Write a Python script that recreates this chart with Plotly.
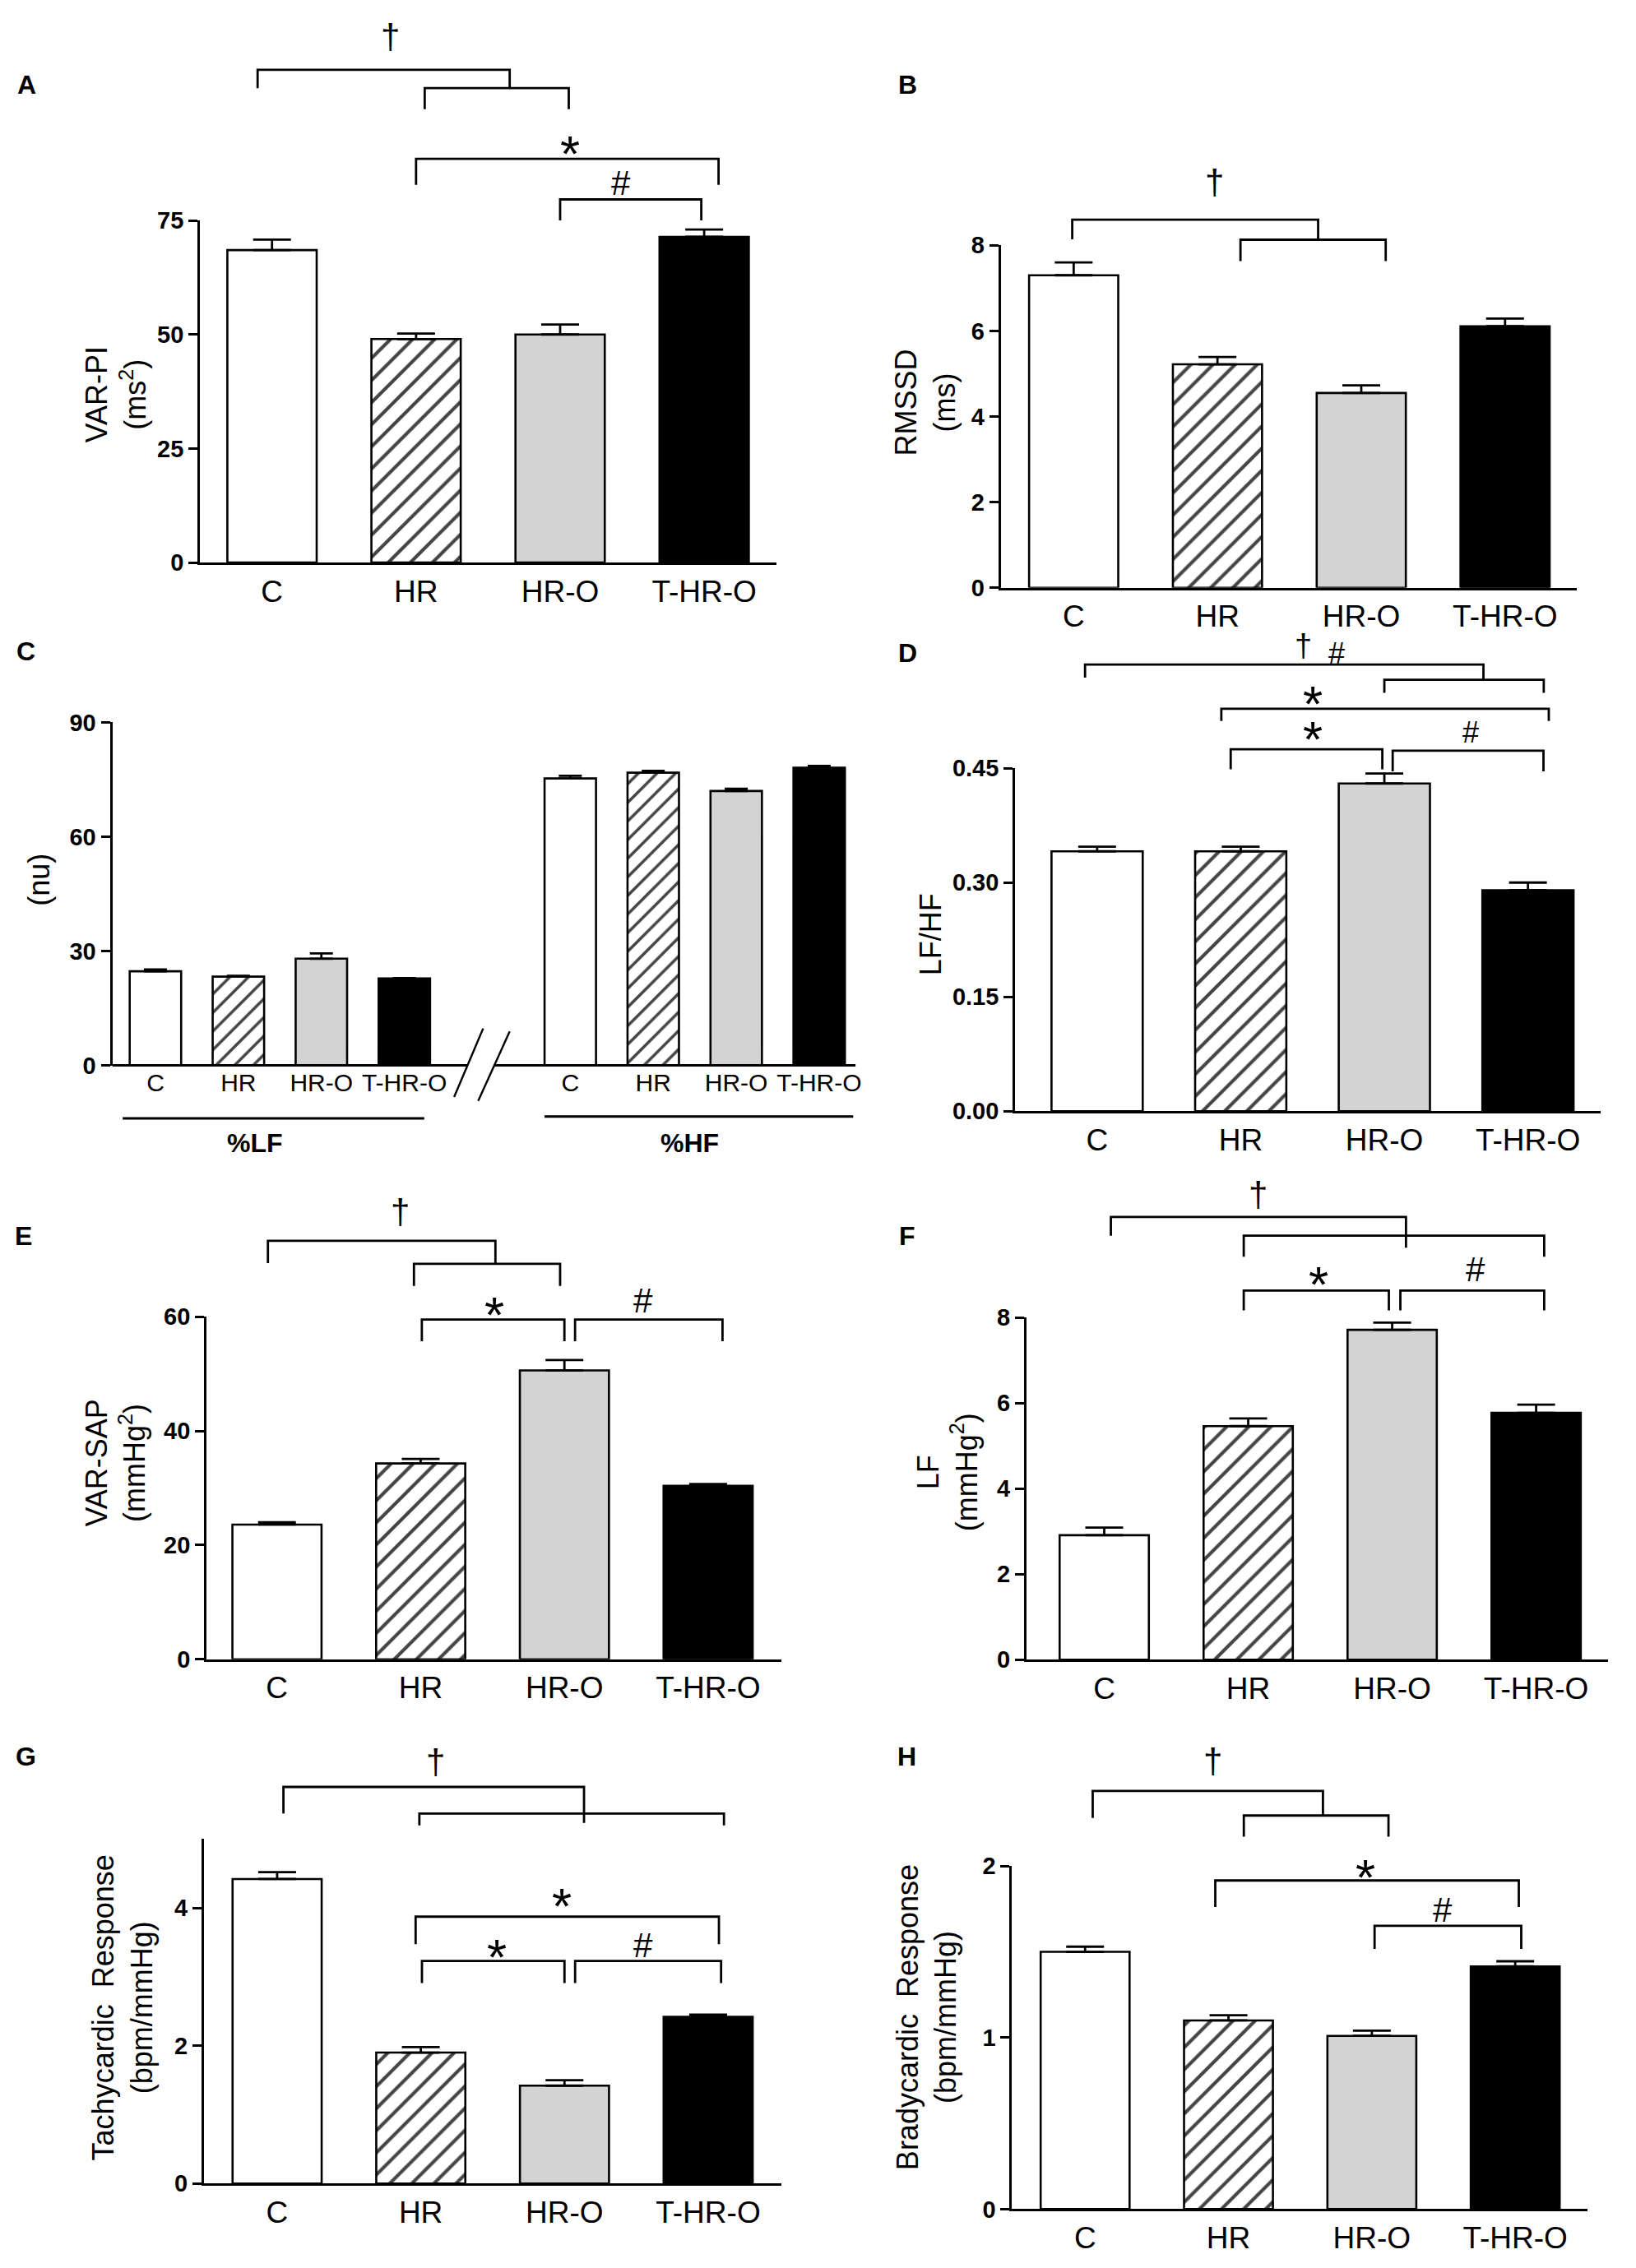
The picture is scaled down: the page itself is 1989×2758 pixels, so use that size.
import plotly.graph_objects as go

W, H = 1989, 2758
FONT = "Liberation Sans, Arial, Helvetica, sans-serif"

# ---------------- data (mean, SEM) ----------------
groups = ["C", "HR", "HR-O", "T-HR-O"]

var_pi = [68.5, 49.0, 50.0, 71.4]
var_pi_sem = [2.3, 1.2, 2.2, 1.6]

rmssd = [7.30, 5.22, 4.55, 6.11]
rmssd_sem = [0.30, 0.17, 0.18, 0.18]

lf_nu = [24.7, 23.3, 28.0, 22.8]
lf_nu_sem = [0.5, 0.2, 1.4, 0.1]
hf_nu = [75.3, 76.8, 72.0, 78.1]
hf_nu_sem = [0.7, 0.5, 0.6, 0.5]

lf_hf = [0.341, 0.341, 0.430, 0.290]
lf_hf_sem = [0.006, 0.006, 0.013, 0.010]

var_sap = [23.6, 34.3, 50.6, 30.4]
var_sap_sem = [0.4, 0.8, 1.8, 0.3]

lf_sap = [2.91, 5.46, 7.71, 5.77]
lf_sap_sem = [0.18, 0.18, 0.17, 0.19]

tachy = [4.42, 1.90, 1.42, 2.42]
tachy_sem = [0.10, 0.08, 0.08, 0.03]

brady = [1.50, 1.10, 1.01, 1.415]
brady_sem = [0.03, 0.03, 0.03, 0.03]

# group styles
fills = ["white", "white", "#d3d3d3", "black"]
hatch = ["", "/", "", ""]

# ---------------- panel layout (pixels of the 1989x2758 page) ----------------
panels = [
    dict(key="A", xl=244, xr=947, xrange=[-0.50, 3.50], y0=676, ytop=255, T=75, TOP=120,
         ticks=[0, 25, 50, 75], tt=["0", "25", "50", "75"],
         title="VAR-PI<br>(ms<sup>2</sup>)", tshift=-102, tfrac=0.49, lab=(33, 88)),
    dict(key="B", xl=1221, xr=1924, xrange=[-0.507, 3.50], y0=707, ytop=285.6, T=8, TOP=10,
         ticks=[0, 2, 4, 6, 8], tt=["0", "2", "4", "6", "8"],
         title="RMSSD<br>(ms)", tshift=-92, tfrac=0.54, lab=(1107, 88)),
    dict(key="C", xl=137, xr=1044, xrange=[-0.52, 8.44], y0=1294.6, ytop=872.6, T=90, TOP=92,
         below=26, ticks=[0, 30, 60, 90], tt=["0", "30", "60", "90"],
         title="(nu)", tshift=-89, tfrac=0.54, lab=(32, 785)),
    dict(key="D", xl=1238.5, xr=1952.7, xrange=[-0.571, 3.505], y0=1351, ytop=929, T=0.45, TOP=0.64,
         ticks=[0, 0.15, 0.30, 0.45], tt=["0.00", "0.15", "0.30", "0.45"],
         title="LF/HF", tshift=-103, tfrac=0.516, lab=(1107, 787)),
    dict(key="E", xl=252, xr=953.4, xrange=[-0.49, 3.51], y0=2025.3, ytop=1603.8, T=60, TOP=82,
         ticks=[0, 20, 40, 60], tt=["0", "20", "40", "60"],
         title="VAR-SAP<br>(mmHg<sup>2</sup>)", tshift=-111, tfrac=0.572, lab=(29, 1504)),
    dict(key="F", xl=1252.4, xr=1962, xrange=[-0.54, 3.50], y0=2025.8, ytop=1604.7, T=8, TOP=11.3,
         ticks=[0, 2, 4, 6, 8], tt=["0", "2", "4", "6", "8"],
         title="LF<br>(mmHg<sup>2</sup>)", tshift=-96, tfrac=0.548, lab=(1107, 1504)),
    dict(key="G", xl=248.7, xr=953.4, xrange=[-0.51, 3.51], y0=2670.2, ytop=2246.4, T=5, TOP=6.4,
         ticks=[0, 2, 4], tt=["0", "2", "4"],
         title="Tachycardic  Response<br>(bpm/mmHg)", tshift=-99, tfrac=0.51, lab=(32, 2145)),
    dict(key="H", xl=1234.7, xr=1937, xrange=[-0.51, 3.505], y0=2701.7, ytop=2279.7, T=2, TOP=2.75,
         ticks=[0, 1, 2], tt=["0", "1", "2"],
         title="Bradycardic  Response<br>(bpm/mmHg)", tshift=-104, tfrac=0.56, lab=(1106, 2145)),
]

series = {
    "A": (var_pi, var_pi_sem), "B": (rmssd, rmssd_sem), "D": (lf_hf, lf_hf_sem),
    "E": (var_sap, var_sap_sem), "F": (lf_sap, lf_sap_sem), "G": (tachy, tachy_sem),
    "H": (brady, brady_sem),
}

# significance brackets (polylines in data units: category index, value)
brackets = {
    "A": [[(-0.10, 104.0), (-0.10, 108.0), (1.65, 108.0), (1.65, 104.0)],
          [(1.06, 99.4), (1.06, 104.0), (2.06, 104.0), (2.06, 99.4)],
          [(1.0, 82.8), (1.0, 88.5), (3.10, 88.5), (3.10, 82.8)],
          [(2.0, 75.0), (2.0, 79.6), (2.98, 79.6), (2.98, 75.0)]],
    "B": [[(-0.01, 8.14), (-0.01, 8.60), (1.70, 8.60), (1.70, 8.13)],
          [(1.16, 7.63), (1.16, 8.13), (2.17, 8.13), (2.17, 7.63)]],
    "D": [[(-0.084, 0.569), (-0.084, 0.586), (2.69, 0.586), (2.69, 0.566)],
          [(2.00, 0.549), (2.00, 0.566), (3.11, 0.566), (3.11, 0.549)],
          [(0.865, 0.512), (0.865, 0.528), (3.145, 0.528), (3.145, 0.512)],
          [(0.93, 0.4485), (0.93, 0.475), (1.986, 0.475), (1.986, 0.4485)],
          [(2.058, 0.446), (2.058, 0.473), (3.108, 0.473), (3.108, 0.446)]],
    "E": [[(-0.063, 69.4), (-0.063, 73.3), (1.52, 73.3), (1.52, 69.25)],
          [(0.953, 65.4), (0.953, 69.25), (1.97, 69.25), (1.97, 65.4)],
          [(1.008, 55.7), (1.008, 59.5), (2.0, 59.5), (2.0, 55.7)],
          [(2.074, 55.7), (2.074, 59.5), (3.10, 59.5), (3.10, 55.7)]],
    "F": [[(0.046, 9.91), (0.046, 10.35), (2.096, 10.35), (2.096, 9.63)],
          [(0.969, 9.42), (0.969, 9.91), (3.056, 9.91), (3.056, 9.42)],
          [(0.969, 8.165), (0.969, 8.63), (1.977, 8.63), (1.977, 8.165)],
          [(2.057, 8.165), (2.057, 8.63), (3.056, 8.63), (3.056, 8.165)]],
    "G": [[(0.044, 5.37), (0.044, 5.756), (2.136, 5.756), (2.136, 5.234)],
          [(0.99, 5.198), (0.99, 5.37), (3.11, 5.37), (3.11, 5.198)],
          [(0.964, 3.472), (0.964, 3.873), (3.075, 3.873), (3.075, 3.472)],
          [(1.008, 2.909), (1.008, 3.231), (2.0, 3.231), (2.0, 2.909)],
          [(2.074, 2.909), (2.074, 3.231), (3.09, 3.231), (3.09, 2.909)]],
    "H": [[(0.053, 2.28), (0.053, 2.438), (1.659, 2.438), (1.659, 2.295)],
          [(1.107, 2.172), (1.107, 2.295), (2.116, 2.295), (2.116, 2.172)],
          [(0.908, 1.762), (0.908, 1.916), (3.025, 1.916), (3.025, 1.762)],
          [(2.019, 1.517), (2.019, 1.652), (3.042, 1.652), (3.042, 1.517)]],
}

# significance symbols: (text, x, y, font size)
symbols = {
    "A": [("†", 0.82, 114.7, 42), ("*", 2.07, 92.3, 62), ("#", 2.42, 83.2, 42)],
    "B": [("†", 0.98, 9.41, 42)],
    "D": [("†", 1.435, 0.608, 38), ("#", 1.67, 0.601, 36), ("*", 1.50, 0.550, 62),
          ("*", 1.50, 0.504, 62), ("#", 2.60, 0.497, 36)],
    "E": [("†", 0.856, 77.9, 42), ("*", 1.51, 62.5, 62), ("#", 2.547, 62.8, 42)],
    "F": [("†", 1.07, 10.82, 42), ("*", 1.49, 9.05, 62), ("#", 2.58, 9.13, 42)],
    "G": [("†", 1.10, 6.08, 42), ("*", 1.983, 4.206, 62), ("*", 1.528, 3.463, 62),
          ("#", 2.547, 3.463, 42)],
    "H": [("†", 0.89, 2.598, 42), ("*", 1.954, 2.004, 62), ("#", 2.493, 1.747, 42)],
}

# panel C decorations (category index, value)
c_axis_segments = [[(-0.52, 0), (3.76, 0)], [(4.08, 0), (8.44, 0)]]
c_break_marks = [[(3.95, 9.7), (3.60, -8.3)], [(4.27, 8.9), (3.89, -9.3)]]
c_group_lines = [[(-0.395, -13.9), (3.24, -13.9)], [(4.69, -13.4), (8.41, -13.4)]]
c_group_labels = [("%LF", 1.2, -20.3), ("%HF", 6.44, -20.3)]
c_positions_lf = [0, 1, 2, 3]
c_positions_hf = [5, 6, 7, 8]

# ---------------- build ----------------
fig = go.Figure()
layout = dict(width=W, height=H, margin=dict(l=0, r=0, t=0, b=0),
              paper_bgcolor="white", plot_bgcolor="rgba(0,0,0,0)", showlegend=False,
              font=dict(family=FONT, color="black"))
annotations = []


def sfx(k):
    return "" if k == 1 else str(k)


def poly_xy(polys):
    xs, ys = [], []
    for poly in polys:
        for (a, b) in poly:
            xs.append(a)
            ys.append(b)
        xs.append(None)
        ys.append(None)
    return xs, ys


SYMBOL_SHIFT = {"*": -0.23, "†": 0.07, "#": 0.0}

for k, p in enumerate(panels, start=1):
    key = p["key"]
    n = sfx(k)
    nb = str(k + 8)
    s = (p["y0"] - p["ytop"]) / p["T"]
    below = p.get("below", 0)
    isC = key == "C"

    # bars
    if isC:
        xpos = c_positions_lf + c_positions_hf
        vals = lf_nu + hf_nu
        sem = lf_nu_sem + hf_nu_sem
        cols = fills + fills
        pats = hatch + hatch
        width, capw, patsize = 0.62, 14, 16
    else:
        xpos = list(range(len(groups)))
        vals, sem = series[key]
        cols, pats = fills, hatch
        width = 0.635 if key == "D" else 0.62
        capw, patsize = 23, 19
    fig.add_trace(go.Bar(
        x=xpos, y=vals, width=width, xaxis="x" + n, yaxis="y" + n,
        marker=dict(color=cols, line=dict(color="black", width=2.6),
                    pattern=dict(shape=pats, fgcolor="black", bgcolor="white",
                                 size=patsize, solidity=0.22, fgopacity=1)),
        error_y=dict(type="data", array=sem, arrayminus=[0] * len(sem), symmetric=False,
                     color="black", thickness=2.8, width=capw),
        hoverinfo="skip"))

    # axes
    xa = dict(domain=[p["xl"] / W, p["xr"] / W], range=p["xrange"], anchor="y" + n,
              showgrid=False, zeroline=False, ticks="",
              tickvals=xpos, ticktext=(groups + groups) if isC else groups,
              tickfont=dict(family=FONT, size=30 if isC else 37, color="black"),
              showline=not isC, linecolor="black", linewidth=3, fixedrange=True)
    ya = dict(domain=[1 - p["y0"] / H, 1 - p["ytop"] / H], range=[0, p["T"]], anchor="x" + n,
              showgrid=False, zeroline=False, showline=True, linecolor="black", linewidth=3,
              ticks="outside", ticklen=11, tickwidth=3, tickcolor="black",
              tickvals=p["ticks"], ticktext=p["tt"],
              tickfont=dict(family=FONT, size=29, color="black", weight="bold"), fixedrange=True)
    yb = dict(domain=[1 - (p["y0"] + below * s) / H, 1 - (p["y0"] - p["TOP"] * s) / H],
              range=[-below, p["TOP"]], anchor="x" + n, visible=False, fixedrange=True)
    layout["xaxis" + n] = xa
    layout["yaxis" + n] = ya
    layout["yaxis" + nb] = yb

    # brackets / decorations on the extended axis
    if isC:
        for polys, w in ((c_axis_segments, 3), (c_break_marks, 2.4), (c_group_lines, 3)):
            bx, by = poly_xy(polys)
            fig.add_trace(go.Scatter(x=bx, y=by, mode="lines", xaxis="x" + n, yaxis="y" + nb,
                                     line=dict(color="black", width=w), hoverinfo="skip"))
        for (txt, tx, ty) in c_group_labels:
            annotations.append(dict(text=txt, x=tx, y=ty, xref="x" + n, yref="y" + nb,
                                    showarrow=False, font=dict(family=FONT, size=32, color="black",
                                                               weight="bold")))
    else:
        bx, by = poly_xy(brackets[key])
        fig.add_trace(go.Scatter(x=bx, y=by, mode="lines", xaxis="x" + n, yaxis="y" + nb,
                                 line=dict(color="black", width=2.8), hoverinfo="skip"))
        for (txt, tx, ty, fs) in symbols[key]:
            annotations.append(dict(text=txt, x=tx, y=ty, xref="x" + n, yref="y" + nb,
                                    showarrow=False, yshift=SYMBOL_SHIFT[txt] * fs,
                                    font=dict(family=FONT, size=fs, color="black")))

    # axis title
    annotations.append(dict(text=p["title"], x=0, y=p["tfrac"], xref="x" + n + " domain",
                            yref="y" + n + " domain", xanchor="center", yanchor="middle",
                            xshift=p["tshift"], textangle=-90, showarrow=False,
                            font=dict(family=FONT, size=36, color="black")))
    # panel letter
    annotations.append(dict(text="<b>%s</b>" % key, x=p["lab"][0] / W, y=1 - p["lab"][1] / H,
                            xref="paper", yref="paper", xanchor="center", yanchor="middle",
                            showarrow=False, font=dict(family=FONT, size=32, color="black")))

layout["annotations"] = annotations
fig.update_layout(**layout)
fig.write_html("out.html", config={"displayModeBar": False, "staticPlot": True},
               post_script="document.body.style.margin='0';")
